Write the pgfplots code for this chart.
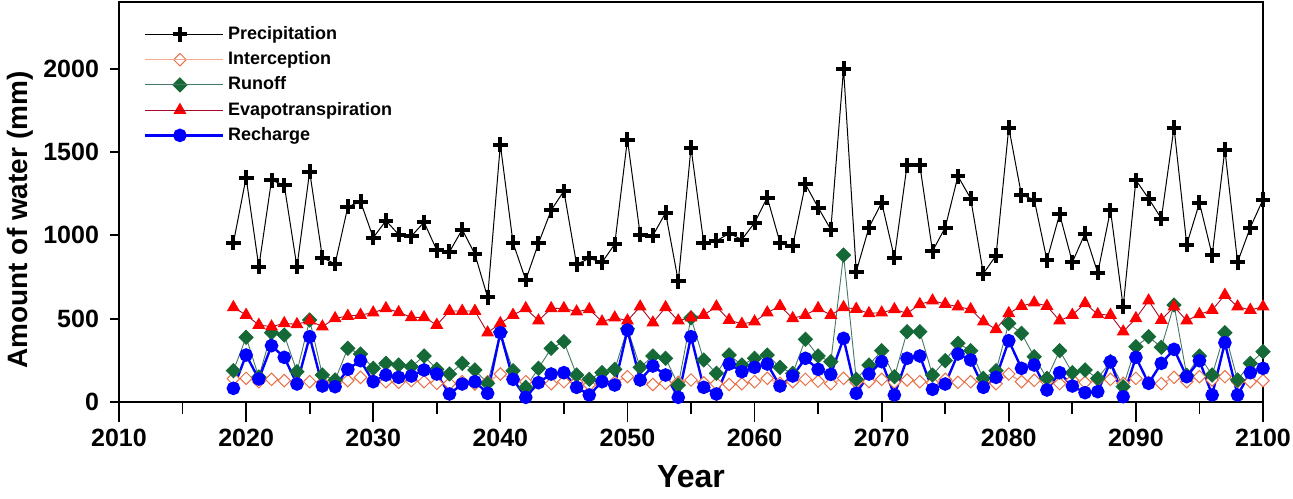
\documentclass[border=0pt]{standalone}
\usepackage{pgfplots}
\usepackage{pgfplotstable}
\pgfplotsset{compat=1.18}
\usepackage{fontspec}
\setmainfont{Liberation Sans}
\definecolor{intline}{RGB}{240,170,150}
\definecolor{intmark}{RGB}{232,112,72}
\definecolor{runline}{RGB}{70,120,100}
\definecolor{runmark}{RGB}{20,105,55}
\definecolor{evline}{RGB}{170,10,40}
\definecolor{evmark}{RGB}{255,0,0}
\definecolor{recmark}{RGB}{0,0,255}
\pgfplotstableread{
Y P I R E G
2019 955 140 188 568 82
2020 1347 142 388 522 282
2021 811 122 150 462 138
2022 1331 136 416 452 338
2023 1301 128 402 472 268
2024 811 120 182 466 108
2025 1383 122 492 488 392
2026 867 118 162 452 96
2027 828 112 132 502 92
2028 1171 128 322 516 196
2029 1203 148 288 522 248
2030 986 132 202 536 122
2031 1088 122 232 562 162
2032 1005 118 222 538 148
2033 995 128 212 508 156
2034 1079 122 276 508 192
2035 911 112 196 462 168
2036 901 110 168 546 48
2037 1035 122 232 546 108
2038 887 108 192 546 122
2039 628 122 112 416 52
2040 1545 168 420 472 416
2041 955 136 188 522 136
2042 732 122 88 562 28
2043 952 118 202 488 116
2044 1151 110 322 562 168
2045 1266 122 362 562 176
2046 826 120 162 542 88
2047 862 102 136 556 42
2048 838 122 176 482 122
2049 947 118 196 506 102
2050 1575 152 440 488 432
2051 1005 130 208 572 132
2052 999 105 276 476 216
2053 1135 112 262 568 162
2054 725 118 102 488 28
2055 1527 132 505 506 392
2056 955 115 252 522 88
2057 967 110 172 572 48
2058 1011 105 282 492 228
2059 975 110 222 468 182
2060 1075 122 262 482 208
2061 1227 142 282 536 228
2062 957 112 208 576 96
2063 937 122 172 502 156
2064 1307 136 376 522 262
2065 1167 125 276 562 196
2066 1035 110 242 522 166
2067 2000 142 882 568 382
2068 783 118 136 558 52
2069 1047 122 222 532 168
2070 1197 136 308 536 242
2071 867 118 152 556 42
2072 1421 132 422 532 262
2073 1421 122 422 586 276
2074 905 115 162 608 76
2075 1047 136 248 588 108
2076 1355 118 352 572 288
2077 1221 122 308 556 252
2078 771 122 142 482 88
2079 879 110 188 436 148
2080 1647 168 472 532 368
2081 1241 122 412 576 202
2082 1215 130 272 596 222
2083 851 122 142 576 72
2084 1127 110 308 488 176
2085 839 132 176 522 96
2086 1011 118 192 592 56
2087 775 132 142 526 62
2088 1151 136 242 522 242
2089 572 112 92 422 32
2090 1331 142 332 502 268
2091 1221 118 392 608 112
2092 1101 110 328 492 232
2093 1647 148 582 572 316
2094 945 122 160 488 152
2095 1195 152 276 526 248
2096 881 132 162 552 42
2097 1515 152 416 642 356
2098 839 122 132 572 42
2099 1047 122 232 552 176
2100 1215 128 302 572 202
}\datatable
\pgfplotsset{
  common/.style={
    scale only axis,
    width=572pt, height=200pt,
    xmin=2010, xmax=2100,
    ymin=0, ymax=2400,
    tick align=outside,
    xtick pos=bottom, ytick pos=left,
    axis line style={line width=1pt},
    every tick/.style={line width=0.9pt, black},
  },
}
\begin{document}
\begin{tikzpicture}
% short y ticks only
\begin{axis}[common,
  xtick=\empty,
  ytick={0,500,1000,1500,2000},
  yticklabels={},
  major tick length=4.5pt,
]
\end{axis}
\begin{axis}[common,
  name=ax,
  xtick={2010,2020,...,2100},
  minor xtick={2015,2025,...,2095},
  ytick={0,500,1000,1500,2000},
  y tick style={draw=none},
  major tick length=10pt,
  minor tick length=6pt,
  /pgf/number format/1000 sep={},
  /pgf/number format/assume math mode=true,
  tick label style={font=\bfseries\fontsize{12.5}{12.5}\selectfont},
  yticklabel style={xshift=3.5pt},
  xlabel={Year},
  ylabel={Amount of water (mm)},
  xlabel style={font=\bfseries\fontsize{16}{16}\selectfont, at={(axis description cs:0.5,0)}, anchor=center, yshift=-37.5pt},
  ylabel style={font=\bfseries\fontsize{14}{14}\selectfont, at={(axis description cs:-0.0865,0.455)}, anchor=center},
  legend style={draw=none, fill=none, at={(axis description cs:0.016,0.96)}, anchor=north west,
    font=\bfseries\fontsize{9}{9}\selectfont, row sep=0.6pt},
  legend cell align=left,
  legend image code/.code={\draw[mark repeat=2,mark phase=2] plot coordinates {(0pt,0pt)(17.5pt,0pt)(35pt,0pt)}; \path (0pt,0pt) -- (39pt,0pt);},
]
\addplot[black, line width=0.5pt, mark=+, mark size=3.7pt, mark options={line width=2pt}] table[x=Y,y=P]{\datatable};
\addlegendentry{Precipitation}
\addplot[intline, line width=0.7pt, mark=square*, mark size=2.2pt, mark options={rotate=45, draw=intmark, fill=white, line width=0.5pt}] table[x=Y,y=I]{\datatable};
\addlegendentry{Interception}
\addplot[runline, line width=0.45pt, mark=square*, mark size=2.5pt, mark options={rotate=45, draw=runmark, fill=runmark}] table[x=Y,y=R]{\datatable};
\addlegendentry{Runoff}
\addplot[evline, line width=0.45pt, mark=triangle*, mark size=3.3pt, mark options={draw=evmark, fill=evmark}] table[x=Y,y=E]{\datatable};
\addlegendentry{Evapotranspiration}
\addplot[recmark, line width=1.2pt, mark=*, mark size=2.8pt, mark options={draw=recmark, fill=recmark}] table[x=Y,y=G]{\datatable};
\addlegendentry{Recharge}
\end{axis}
\pgfresetboundingbox
\path (ax.south west) ++(-59.5pt,-48pt) coordinate (bl);
\path (ax.north east) ++(15pt,1pt) coordinate (tr);
\useasboundingbox (bl) rectangle (tr);
\end{tikzpicture}
\end{document}
